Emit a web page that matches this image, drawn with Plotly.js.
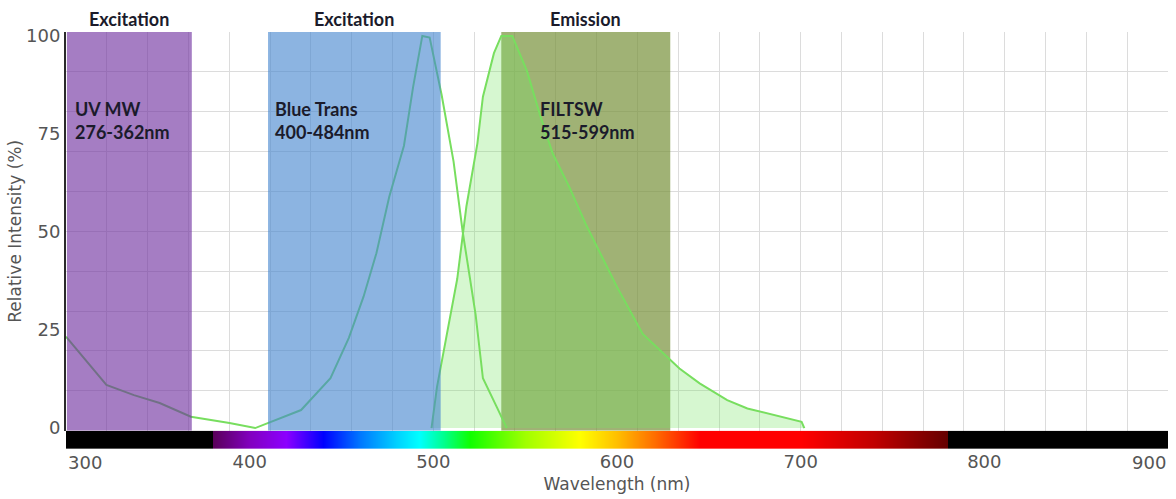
<!DOCTYPE html>
<html><head><meta charset="utf-8">
<script src="https://cdn.plot.ly/plotly-3.0.1.min.js"></script>
<style>html,body{margin:0;padding:0;background:#fff}#chart{width:1176px;height:499px}</style>
</head><body><div id="chart"></div>
<script>
// ---- data ----
const excitationNm  = [300, 322, 337, 351, 368, 389, 403, 410, 428, 444, 454, 462, 469, 476, 484, 489, 494, 498, 504.5, 511, 516, 523, 527, 534.5, 540];
const excitationVal = [23.3, 11, 8.4, 6.4, 2.9, 1.3, 0, 1.3, 4.6, 12.7, 23, 33.5, 44.6, 59, 72, 87, 100, 99.6, 85, 68, 50, 29, 12.7, 5.4, 0];

const emissionNm  = [499, 502, 507, 513, 518, 524, 527, 533, 537, 543, 551, 558, 565, 574, 583, 591, 600, 614, 629, 634, 645, 660, 671, 685, 700.5, 702];
const emissionVal = [0, 10.5, 23, 38, 56.5, 72.6, 84.5, 95.6, 100, 100, 91, 80, 70, 61.5, 52, 44.5, 36, 24, 17.3, 15.2, 11.4, 7.1, 5, 3.3, 1.6, 0];

const bandHeaders = ['Excitation', 'Excitation', 'Emission'];
const bandNames   = ['UV MW', 'Blue Trans', 'FILTSW'];
const bandRanges  = ['276-362nm', '400-484nm', '515-599nm'];
const bandStart   = [300.5, 410, 537];
const bandEnd     = [368.5, 504, 629];

const xTickVals = [300, 400, 500, 600, 700, 800, 900];
const xTickText = ['300', '400', '500', '600', '700', '800', '900'];
const yTickVals = [0, 25, 50, 75, 100];
const yTickText = ['0', '25', '50', '75', '100'];

const spectrumNm     = [300, 379.9, 380, 400, 420, 440, 460, 480, 492, 505, 520, 550, 580, 600, 620, 645, 700, 740, 780, 780.1, 900];
const spectrumColors = ['#000000', '#000000', '#5a005a', '#8200c0', '#8c00ff', '#0000ff', '#0078ff', '#00d2ff', '#00ffff', '#00ff90', '#10ff00', '#a0ff00', '#ffff00', '#ffbe00', '#ff6e00', '#ff0000', '#ff0000', '#c00000', '#640000', '#000000', '#000000'];

// ---- styles ----
const yRange = [-0.66, 101];
const bandColors = ['rgba(110,45,158,0.62)', 'rgba(70,134,207,0.62)', 'rgba(119,145,59,0.7)'];
const bandLayers = ['above', 'above', 'between'];
const labelShift = [6, 5, 37];
const tickFont  = {family: 'DejaVu Sans', size: 18, color: '#555'};
const titleFont = {family: 'DejaVu Sans', size: 17, color: '#555'};
const bandFont  = {family: 'Lato', size: 18, color: '#1b1b2b', weight: 700};
const lineGreen = 'rgb(120,222,95)';

const xMin = xTickVals[0], xMax = xTickVals[xTickVals.length - 1];
const colorscale = spectrumNm.map((nm, i) => [(nm - xMin) / (xMax - xMin), spectrumColors[i]]);

const traces = [
  {type: 'heatmap', x: spectrumNm, y: [0], z: [spectrumNm], zmin: xMin, zmax: xMax,
   colorscale: colorscale, zsmooth: 'best', showscale: false, xaxis: 'x', yaxis: 'y3', hoverinfo: 'skip'},
  {type: 'scatter', mode: 'lines', x: emissionNm, y: emissionVal, fill: 'tozeroy',
   fillcolor: 'rgba(120,230,100,0.3)', line: {color: lineGreen, width: 2}, xaxis: 'x', yaxis: 'y', name: 'Emission'},
  {type: 'scatter', mode: 'lines', x: excitationNm, y: excitationVal,
   line: {color: lineGreen, width: 2}, xaxis: 'x', yaxis: 'y', name: 'Excitation'},
  {type: 'scatter', mode: 'lines', x: [], y: [], xaxis: 'x2', yaxis: 'y2', hoverinfo: 'skip'}
];

const shapes = bandStart.map((s, i) => ({
  type: 'rect', xref: 'x', yref: 'y', x0: s, x1: bandEnd[i], y0: yRange[0], y1: yRange[1],
  fillcolor: bandColors[i], line: {width: 0}, layer: bandLayers[i]
}));

const annotations = [];
bandStart.forEach((s, i) => {
  annotations.push({text: bandHeaders[i], x: (s + bandEnd[i]) / 2, xref: 'x', y: 1, yref: 'y domain',
    xanchor: 'center', yanchor: 'bottom', showarrow: false, font: bandFont});
  annotations.push({text: bandNames[i] + '<br>' + bandRanges[i], x: s, xref: 'x', xshift: labelShift[i],
    y: 0.777, yref: 'y domain', xanchor: 'left', yanchor: 'middle', align: 'left', showarrow: false, font: bandFont});
});
// edge tick labels (aligned inward like the reference)
annotations.push({text: xTickText[0], x: xTickVals[0], xref: 'x', y: 0, yref: 'paper', xanchor: 'left', yanchor: 'top',
  yshift: -1, showarrow: false, font: tickFont});
annotations.push({text: xTickText[xTickText.length - 1], x: xTickVals[xTickVals.length - 1], xref: 'x', y: 0, yref: 'paper',
  xanchor: 'right', yanchor: 'top', yshift: -1, showarrow: false, font: tickFont});

const layout = {
  width: 1176, height: 499,
  margin: {l: 66, r: 8, t: 32, b: 50},
  paper_bgcolor: '#fff', plot_bgcolor: '#fff', showlegend: false,
  xaxis: {range: [xMin, xMax], anchor: 'y3', tickvals: xTickVals.slice(1, -1), ticktext: xTickText.slice(1, -1),
    showgrid: false, zeroline: false, showline: false, ticks: '', tickfont: tickFont,
    title: {text: 'Wavelength (nm)', font: titleFont, standoff: 7}},
  yaxis: {domain: [0.044, 1], range: yRange, anchor: 'x', tickvals: yTickVals, ticktext: yTickText,
    showgrid: false, zeroline: false, showline: true, linecolor: '#2a2a2a', linewidth: 2, ticks: '', tickfont: tickFont,
    title: {text: 'Relative Intensity (%)', font: titleFont, standoff: 0}},
  xaxis2: {overlaying: 'x', anchor: 'y2', range: [0, 27], tick0: 0, dtick: 1, showgrid: true, gridcolor: '#dcdcdc',
    gridwidth: 1, showticklabels: false, zeroline: false, ticks: ''},
  yaxis2: {overlaying: 'y', anchor: 'x2', range: [0, 10], tick0: 0, dtick: 1, showgrid: true, gridcolor: '#dcdcdc',
    gridwidth: 1, showticklabels: false, zeroline: false, ticks: ''},
  yaxis3: {domain: [0, 0.044], anchor: 'x', range: [-0.5, 0.5], showticklabels: false, showgrid: false,
    zeroline: false, ticks: ''},
  shapes: shapes,
  annotations: annotations
};

Plotly.newPlot('chart', traces, layout, {displayModeBar: false, staticPlot: true});
</script>
</body></html>
